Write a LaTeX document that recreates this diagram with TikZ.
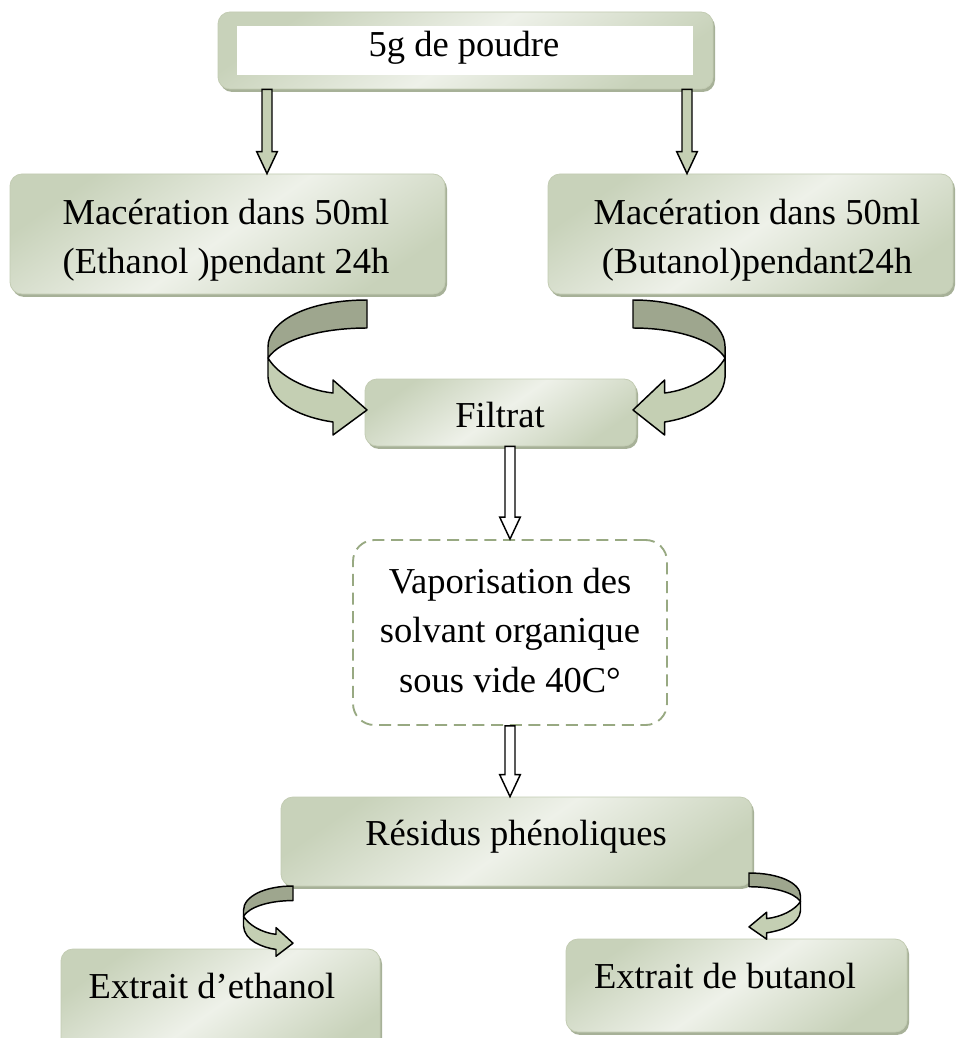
\documentclass[tikz,border=0pt]{standalone}
\usepackage{fontspec}
\setmainfont{Liberation Serif}
\usetikzlibrary{calc,fit,shadows}
\definecolor{bxlight}{HTML}{EEF1E9}
\definecolor{bxdark}{HTML}{C8D2BA}
\definecolor{bxedge}{HTML}{C3CCB3}
\definecolor{bxshadow}{HTML}{A7B198}
\definecolor{arfill}{HTML}{C4CFB3}
\definecolor{ardark}{HTML}{9EA68E}
\definecolor{dashc}{HTML}{98A982}
\tikzset{
  gbox/.style={rectangle, rounded corners=9pt, inner sep=0pt, draw=bxedge, line width=0.6pt,
    top color=bxdark, bottom color=bxdark, middle color=bxlight, shading angle=35,
    general shadow={fill=bxshadow, shadow xshift=1.5pt, shadow yshift=-2.2pt}},
  dbox/.style={rectangle, rounded corners=16pt, inner sep=0pt, draw=dashc, line width=1.4pt,
    dash pattern=on 9pt off 5pt},
  txt/.style={inner sep=0pt, anchor=base, font=\fontsize{27.4}{33}\selectfont},
  solidarr/.style={draw=black, fill=arfill, line width=1.1pt, line join=miter},
  whitearr/.style={draw=black, fill=white, line width=1.1pt, line join=miter},
  curvarr/.pic={
    \filldraw[fill=ardark, draw=black, line width=1.1pt, line join=round]
      (0,0) .. controls (-57,0) and (-99,20) .. (-99,47) -- (-99,58)
      .. controls (-87,40) and (-47,28) .. (0,28) -- cycle;
    \filldraw[fill=arfill, draw=black, line width=1.1pt, line join=round]
      (-99,58) -- (-99,77) .. controls (-97,105) and (-62,118) .. (-34,122)
      -- (-34,135) -- (0,110) -- (-34,80) -- (-34,93)
      .. controls (-62,90) and (-89,75) .. (-99,58) -- cycle;
  }
}
\newcommand\blockdown[3]{%
  \draw[#3] let \p1=#1, \p2=#2 in
    (\x1-3.75pt,\y1) -- (\x1-3.75pt,\y2+16.5pt) -- (\x1-7.75pt,\y2+16.5pt) -- (\x1,\y2)
    -- (\x1+7.75pt,\y2+16.5pt) -- (\x1+3.75pt,\y2+16.5pt) -- (\x1+3.75pt,\y1) -- cycle;}

\begin{document}
\begin{tikzpicture}[x=0.75pt, y=-0.75pt]
\useasboundingbox (0,0) rectangle (957,1038);
\fill[white] (0,0) rectangle (957,1038);
\clip (0,0) rectangle (957,1038);

% top box
\node[gbox, fit={(218,12) (713,89)}] (top) {};
\node[fill=white, inner sep=0pt, fit={(237,26) (693,75)}] (topin) {};
\node[txt] (toptxt) at (464,57) {5g de poudre};

% maceration boxes
\node[gbox, fit={(10,174) (445,294)}] (mac1) {};
\node[txt] (mac1a) at (226,224) {Macération dans 50ml};
\node[txt] (mac1b) at (226,273) {(Ethanol )pendant 24h};

\node[gbox, fit={(548,174) (953,294)}] (mac2) {};
\node[txt] (mac2a) at (757,224) {Macération dans 50ml};
\node[txt] (mac2b) at (757,273) {(Butanol)pendant24h};

% filtrat
\node[gbox, fit={(365,379) (636,446)}] (filt) {};
\node[txt] (filtt) at (500,427) {Filtrat};

% vaporisation
\node[dbox, fit={(353,540) (667,725)}] (vap) {};
\node[txt] (vapa) at (510,593) {Vaporisation des};
\node[txt] (vapb) at (510,642) {solvant organique};
\node[txt] (vapc) at (510,692) {sous vide 40C°};

% residus
\node[gbox, fit={(281,797) (752,886)}] (res) {};
\node[txt] (rest) at (516,845) {Résidus phénoliques};

% extraits
\node[gbox, fit={(61,949) (380,1060)}] (ext1) {};
\node[txt] (ext1t) at (212,998) {Extrait d’ethanol};
\node[gbox, fit={(566,939) (907,1032)}] (ext2) {};
\node[txt] (ext2t) at (725,988) {Extrait de butanol};

% straight block arrows
\blockdown{(267,0 |- top.south)}{(267,0 |- mac1.north)}{solidarr}
\blockdown{(687,0 |- top.south)}{(687,0 |- mac2.north)}{solidarr}
\blockdown{(510,0 |- filt.south)}{(510,0 |- vap.north)}{whitearr}
\blockdown{(510,0 |- vap.south)}{(510,0 |- res.north)}{whitearr}

% curved arrows
\pic at (367,300) {curvarr};
\pic[xscale=-0.93] at (633,300) {curvarr};
\pic[xscale=0.5, yscale=0.52] at (293,886) {curvarr};
\pic[xscale=-0.52, yscale=0.49] at (749,873) {curvarr};
\end{tikzpicture}
\end{document}
